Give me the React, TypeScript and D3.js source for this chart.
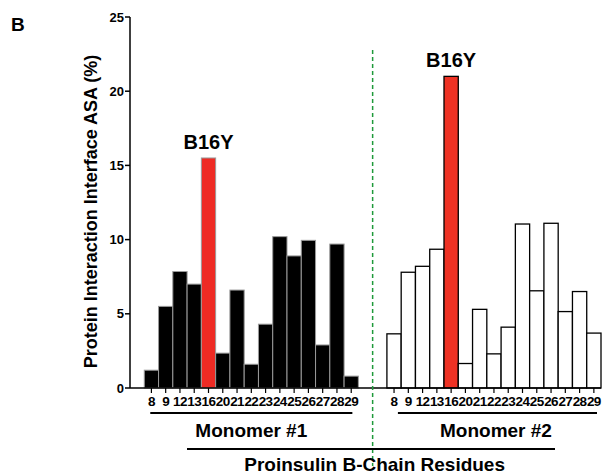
import React from 'react';
import * as d3 from 'd3';

const residues = ['8', '9', '12', '13', '16', '20', '21', '22', '23', '24', '25', '26', '27', '28', '29'];
const monomer1 = [1.2, 5.5, 7.85, 7.0, 15.5, 2.35, 6.6, 1.6, 4.3, 10.2, 8.9, 9.95, 2.9, 9.7, 0.8];
const monomer2 = [3.65, 7.8, 8.2, 9.35, 21.0, 1.65, 5.3, 2.3, 4.1, 11.05, 6.55, 11.1, 5.15, 6.5, 3.7];
const yTicks = [0, 5, 10, 15, 20, 25];
const mutant = '16';

const W = 613;
const H = 476;
const x0 = 130;
const x1 = 601;
const yBottom = 388;
const yTop = 17;

// slots: one leading pad, 15 bars, 2 gap slots, 15 bars
const slots = ['pad', ...residues.map(r => 'a' + r), 'g1', 'g2', ...residues.map(r => 'b' + r)];

const App = () => {
  const x = d3.scaleBand().domain(slots).range([x0, x1]).padding(0);
  const y = d3.scaleLinear().domain([0, 25]).range([yBottom, yTop]);
  const bw = x.bandwidth();
  const font = 'Arial, "Liberation Sans", Helvetica, sans-serif';

  const left = residues.map((r, i) => ({ key: 'a' + r, r, v: monomer1[i] }));
  const right = residues.map((r, i) => ({ key: 'b' + r, r, v: monomer2[i] }));

  const midX = (x('g1')! + x('g2')! + bw) / 2;
  const leftStart = x('a8')!;
  const leftEnd = x('a29')! + bw;
  const rightStart = x('b8')!;
  const rightEnd = x('b29')! + bw;

  const r16a = left.find(d => d.r === mutant)!;
  const r16b = right.find(d => d.r === mutant)!;

  return (
    <svg width={W} height={H} style={{ position: 'absolute', left: 0, top: 0, background: '#fff' }} fontFamily={font}>
      <text x={11} y={31} fontSize={19} fontWeight="bold">B</text>

      {/* y axis */}
      <line x1={x0} x2={x0} y1={y(25)} y2={yBottom} stroke="#000" strokeWidth={1.5} />
      {yTicks.map(t => (
        <g key={t}>
          <line x1={x0 - 5} x2={x0} y1={y(t)} y2={y(t)} stroke="#000" strokeWidth={1.5} />
          <text x={x0 - 6} y={y(t)} dy="0.36em" textAnchor="end" fontSize={13} fontWeight="bold">{t}</text>
        </g>
      ))}
      <text transform={`translate(97,${(yBottom + 35) / 2}) rotate(-90)`} textAnchor="middle" fontSize={18} fontWeight="bold">
        Protein Interaction Interface ASA (%)
      </text>

      {/* monomer 1 bars */}
      {left.map(d => (
        <rect key={d.key} x={x(d.key)!} y={y(d.v)} width={bw} height={yBottom - y(d.v)}
          fill={d.r === mutant ? '#ee2b24' : '#000'} stroke="#9a9a9a" strokeWidth={1} />
      ))}
      {/* monomer 2 bars */}
      {right.map(d => (
        <rect key={d.key} x={x(d.key)!} y={y(d.v)} width={bw} height={yBottom - y(d.v)}
          fill={d.r === mutant ? '#ee3224' : '#fff'} stroke="#000" strokeWidth={1.3} />
      ))}

      {/* x axis */}
      <line x1={x0} x2={x1} y1={yBottom} y2={yBottom} stroke="#000" strokeWidth={1.5} />
      {[...left, ...right].map(d => {
        const cx = x(d.key)! + bw / 2;
        return (
          <g key={'t' + d.key}>
            <line x1={cx} x2={cx} y1={yBottom} y2={yBottom + 5} stroke="#000" strokeWidth={1.2} />
            <text x={cx} y={406} textAnchor="middle" fontSize={13.5} fontWeight="bold" letterSpacing={-0.6}>{d.r}</text>
          </g>
        );
      })}

      <text x={x(r16a.key)! + bw / 2} y={y(r16a.v) - 9} textAnchor="middle" fontSize={20} fontWeight="bold">B16Y</text>
      <text x={x(r16b.key)! + bw / 2} y={y(r16b.v) - 9} textAnchor="middle" fontSize={20} fontWeight="bold">B16Y</text>

      {/* separator */}
      <line x1={midX} x2={midX} y1={50} y2={466} stroke="#1f9a3a" strokeWidth={1.5} strokeDasharray="4,3" />

      {/* group labels */}
      <line x1={leftStart + 6} x2={leftEnd - 6} y1={413} y2={413} stroke="#000" strokeWidth={1.8} />
      <line x1={rightStart + 11} x2={rightEnd - 4} y1={413} y2={413} stroke="#000" strokeWidth={1.8} />
      <text x={(leftStart + leftEnd) / 2} y={437} textAnchor="middle" fontSize={19} fontWeight="bold">Monomer #1</text>
      <text x={(rightStart + rightEnd) / 2 + 2} y={437} textAnchor="middle" fontSize={19} fontWeight="bold">Monomer #2</text>
      <line x1={187} x2={555} y1={449} y2={449} stroke="#000" strokeWidth={1.8} />
      <text x={midX + 2} y={471} textAnchor="middle" fontSize={19} fontWeight="bold">Proinsulin B-Chain Residues</text>
    </svg>
  );
};

export default App;
